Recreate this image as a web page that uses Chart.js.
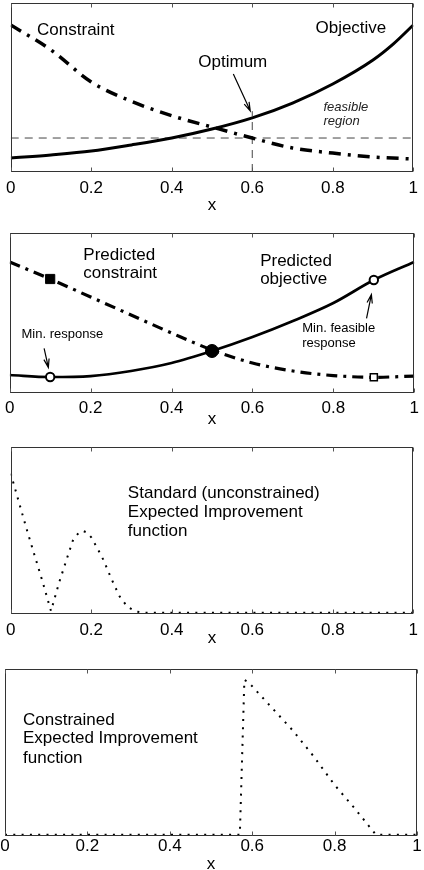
<!DOCTYPE html>
<html>
<head>
<meta charset="utf-8">
<script src="https://cdn.jsdelivr.net/npm/chart.js@4.4.1/dist/chart.umd.min.js"></script>
<style>
html,body{margin:0;padding:0;background:#fff;overflow:hidden;width:424px;height:870px;position:relative;}
canvas{position:absolute;left:0;}
</style>
</head>
<body>
<canvas id="c1" width="424" height="220" style="top:0px;width:424px;height:220px"></canvas>
<canvas id="c2" width="424" height="210" style="top:222px;width:424px;height:210px"></canvas>
<canvas id="c3" width="424" height="220" style="top:432px;width:424px;height:220px"></canvas>
<canvas id="c4" width="424" height="228" style="top:652px;width:424px;height:228px"></canvas>
<script>
// ---------- data ----------
const xTickLabels = ['0', '0.2', '0.4', '0.6', '0.8', '1'];
const gridX = [0, 0.1, 0.2, 0.3, 0.4, 0.5, 0.6, 0.7, 0.8, 0.9, 1.0];

// panel 1: true functions
const objX       = [0, 0.1, 0.2, 0.3, 0.4, 0.5, 0.6, 0.7, 0.8, 0.9, 0.95, 1.0];
const objective  = [0.083, 0.101, 0.124, 0.160, 0.201, 0.254, 0.320, 0.408, 0.521, 0.663, 0.757, 0.870];
const constraint = [0.870, 0.722, 0.533, 0.418, 0.333, 0.266, 0.201, 0.142, 0.112, 0.089, 0.077];
const limitValue = 0.201;
const optimumX = 0.6;
const optimumTop = 0.36;

// panel 2: predictions
const predObjective  = [0.1125, 0.100, 0.106, 0.1375, 0.1875, 0.2625, 0.35, 0.45, 0.5625, 0.706, 0.819];
const predConstraint = [0.819, 0.7125, 0.600, 0.4875, 0.375, 0.269, 0.1875, 0.1375, 0.109, 0.098, 0.106];
const sampleX = [0.1, 0.5, 0.9];

// panel 3: standard expected improvement
const eiX = [0, 0.02, 0.04, 0.06, 0.08, 0.10, 0.12, 0.14, 0.155, 0.17, 0.18, 0.19, 0.20, 0.215, 0.23, 0.25, 0.27, 0.29, 0.31, 0.33, 0.4, 0.5, 0.6, 0.7, 0.8, 0.9, 1.0];
const eiStandard = [0.84, 0.67, 0.50, 0.34, 0.18, 0.01, 0.18, 0.33, 0.44, 0.485, 0.493, 0.483, 0.455, 0.39, 0.32, 0.205, 0.10, 0.035, 0.008, 0, 0, 0, 0, 0, 0, 0, 0];

// panel 4: constrained expected improvement
const ceiX = [0, 0.1, 0.2, 0.3, 0.4, 0.5, 0.57, 0.581, 0.591, 0.65, 0.7, 0.75, 0.8, 0.85, 0.892, 0.9, 1.0];
const eiConstrained = [0, 0, 0, 0, 0, 0, 0, 0.934, 0.92, 0.76, 0.625, 0.47, 0.30, 0.155, 0.025, 0, 0];

// ---------- helpers ----------
const FONT = '"Liberation Sans", Arial, Helvetica, sans-serif';
Chart.defaults.font.family = FONT;
Chart.defaults.color = '#000';

const pts = (xs, ys) => xs.map((x, i) => ({x: x, y: ys[i]}));
const at = (xs, ys, x) => ({x: x, y: ys[xs.indexOf(x)]});

const framePlugin = {
  id: 'frame',
  afterDatasetsDraw(chart) {
    const {ctx, chartArea: a, scales: {x}} = chart;
    ctx.save();
    ctx.strokeStyle = '#333';
    ctx.lineWidth = 1;
    const L = Math.round(a.left) + 0.5, T = Math.round(a.top) + 0.5;
    const R = Math.round(a.right) - 0.5, B = Math.round(a.bottom) - 0.5;
    ctx.strokeRect(L, T, R - L, B - T);
    ctx.strokeStyle = '#555';
    ctx.beginPath();
    x.ticks.forEach(t => {
      const px = Math.round(x.getPixelForValue(t.value)) + 0.5;
      ctx.moveTo(px, B); ctx.lineTo(px, B - 4);
      ctx.moveTo(px, T); ctx.lineTo(px, T + 4);
    });
    ctx.stroke();
    ctx.restore();
  }
};

function notesPlugin(texts, arrows) {
  return {
    id: 'notes',
    afterDraw(chart) {
      const {ctx, scales: {x, y}} = chart;
      ctx.save();
      arrows.forEach(a => {
        const x1 = x.getPixelForValue(a.from[0]), y1 = y.getPixelForValue(a.from[1]);
        const x2 = x.getPixelForValue(a.to[0]), y2 = y.getPixelForValue(a.to[1]);
        const ang = Math.atan2(y2 - y1, x2 - x1);
        const hl = 9, ha = 0.3;
        ctx.strokeStyle = '#000';
        ctx.lineWidth = 1.2;
        ctx.beginPath();
        ctx.moveTo(x1, y1); ctx.lineTo(x2, y2);
        ctx.moveTo(x2 - hl * Math.cos(ang - ha), y2 - hl * Math.sin(ang - ha));
        ctx.lineTo(x2, y2);
        ctx.lineTo(x2 - hl * Math.cos(ang + ha), y2 - hl * Math.sin(ang + ha));
        ctx.stroke();
      });
      texts.forEach(t => {
        ctx.font = t.font;
        ctx.fillStyle = t.color || '#000';
        ctx.textAlign = 'left';
        ctx.textBaseline = 'alphabetic';
        ctx.fillText(t.text, x.getPixelForValue(t.x), y.getPixelForValue(t.y));
      });
      ctx.restore();
    }
  };
}

function makeChart(id, datasets, cfg, texts, arrows) {
  return new Chart(document.getElementById(id), {
    type: 'scatter',
    data: {datasets: datasets},
    options: {
      responsive: false,
      animation: false,
      events: [],
      layout: {padding: cfg.padding},
      plugins: {legend: {display: false}, tooltip: {enabled: false}},
      scales: {
        x: {
          type: 'linear', min: 0, max: 1,
          grid: {display: false, drawTicks: false},
          border: {display: false},
          ticks: {
            stepSize: 0.2, padding: cfg.tickPad, color: '#000',
            font: {size: 17, family: FONT},
            callback: (v, i) => xTickLabels[i]
          },
          title: {display: true, text: 'x', color: '#000', padding: {top: 0, bottom: 0}, font: {size: 17, family: FONT}},
          afterFit: s => { s.height = cfg.axisH; }
        },
        y: {type: 'linear', min: cfg.ymin !== undefined ? cfg.ymin : 0, max: 1, display: false}
      }
    },
    plugins: [framePlugin, notesPlugin(texts, arrows)]
  });
}

const big = '17px ' + FONT;
const small = '13px ' + FONT;

// ---------- panel 1 ----------
makeChart('c1', [
  {data: pts(objX, objective), showLine: true, borderColor: '#000', borderWidth: 3, pointRadius: 0, cubicInterpolationMode: 'monotone', fill: false},
  {data: pts(gridX, constraint), showLine: true, borderColor: '#000', borderWidth: 3.5, borderDash: [12, 7, 3, 7], pointRadius: 0, cubicInterpolationMode: 'monotone', fill: false},
  {data: [{x: 0, y: limitValue}, {x: 1, y: limitValue}], showLine: true, borderColor: '#444', borderWidth: 1, borderDash: [8, 6], pointRadius: 0},
  {data: [{x: optimumX, y: 0}, {x: optimumX, y: optimumTop}], showLine: true, borderColor: '#444', borderWidth: 1, borderDash: [8, 6], pointRadius: 0}
], {padding: {left: 5, right: 7, top: 3, bottom: 4}, axisH: 44, tickPad: 6},
[
  {text: 'Constraint', x: 0.0655, y: 0.811, font: big},
  {text: 'Objective', x: 0.757, y: 0.822, font: big},
  {text: 'Optimum', x: 0.466, y: 0.621, font: big},
  {text: 'feasible', x: 0.777, y: 0.361, font: 'italic ' + small, color: '#222'},
  {text: 'region', x: 0.777, y: 0.278, font: 'italic ' + small, color: '#222'}
],
[{from: [0.553, 0.580], to: [0.595, 0.362]}]);

// ---------- panel 2 ----------
makeChart('c2', [
  {data: [at(gridX, predObjective, 0.5)], pointStyle: 'circle', pointRadius: 6.5, backgroundColor: '#000', borderColor: '#000', borderWidth: 1},
  {data: [at(gridX, predObjective, 0.1), at(gridX, predObjective, 0.9)], pointStyle: 'circle', pointRadius: 4.2, backgroundColor: '#fff', borderColor: '#000', borderWidth: 2},
  {data: [at(gridX, predConstraint, 0.1)], pointStyle: 'rect', pointRadius: 6.5, backgroundColor: '#000', borderColor: '#000', borderWidth: 1},
  {data: [at(gridX, predConstraint, 0.9)], pointStyle: 'rect', pointRadius: 5, backgroundColor: '#fff', borderColor: '#000', borderWidth: 1.5},
  {data: pts(gridX, predObjective), showLine: true, borderColor: '#000', borderWidth: 2.7, pointRadius: 0, cubicInterpolationMode: 'monotone', fill: false},
  {data: pts(gridX, predConstraint), showLine: true, borderColor: '#000', borderWidth: 3.2, borderDash: [11, 6, 3, 6], pointRadius: 0, cubicInterpolationMode: 'monotone', fill: false}
], {padding: {left: 5, right: 7, top: 11, bottom: 2}, axisH: 37, tickPad: 5},
[
  {text: 'Predicted', x: 0.182, y: 0.831, font: big},
  {text: 'constraint', x: 0.182, y: 0.717, font: big},
  {text: 'Predicted', x: 0.619, y: 0.796, font: big},
  {text: 'objective', x: 0.619, y: 0.681, font: big},
  {text: 'Min. response', x: 0.029, y: 0.342, font: small},
  {text: 'Min. feasible', x: 0.723, y: 0.383, font: small},
  {text: 'response', x: 0.723, y: 0.289, font: small}
],
[
  {from: [0.085, 0.279], to: [0.0955, 0.160]},
  {from: [0.882, 0.467], to: [0.894, 0.615]}
]);

// ---------- panel 3 ----------
makeChart('c3', [
  {data: pts(eiX, eiStandard), showLine: true, borderColor: '#000', borderWidth: 2, borderDash: [2, 6.3], pointRadius: 0, tension: 0, fill: false}
], {padding: {left: 5, right: 7, top: 15, bottom: 3}, axisH: 35, tickPad: 6, ymin: -0.008},
[
  {text: 'Standard (unconstrained)', x: 0.291, y: 0.693, font: big},
  {text: 'Expected Improvement', x: 0.291, y: 0.579, font: big},
  {text: 'function', x: 0.291, y: 0.463, font: big}
], []);

// ---------- panel 4 ----------
makeChart('c4', [
  {data: pts(ceiX, eiConstrained), showLine: true, borderColor: '#000', borderWidth: 2, borderDash: [2, 6.3], pointRadius: 0, tension: 0, fill: false}
], {padding: {left: 5, right: 7, top: 17, bottom: 5}, axisH: 39, tickPad: 0, ymin: -0.008},
[
  {text: 'Constrained', x: 0.0437, y: 0.665, font: big},
  {text: 'Expected Improvement', x: 0.0437, y: 0.551, font: big},
  {text: 'function', x: 0.0437, y: 0.435, font: big}
], []);
</script>
</body>
</html>
